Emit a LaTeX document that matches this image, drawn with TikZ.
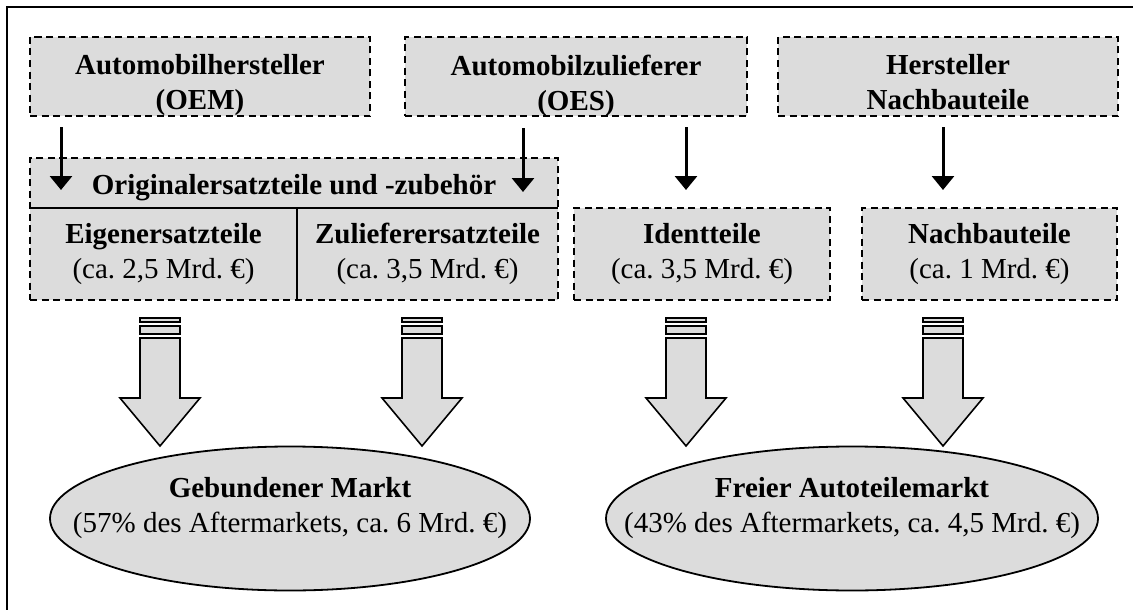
\documentclass[tikz,border=0pt]{standalone}
\usepackage{fontspec}
\setmainfont{Liberation Serif}
\usetikzlibrary{arrows.meta,shapes.geometric}
\definecolor{boxgray}{HTML}{DCDCDC}
\frenchspacing
\begin{document}
\begin{tikzpicture}[x=1pt,y=-1pt,
  dbox/.style={draw, fill=boxgray, line width=2pt, dash pattern=on 7pt off 4.5pt,
    inner sep=0pt, outer sep=0pt},
  cell/.style={inner sep=0pt, outer sep=0pt},
  txt/.style={font=\fontsize{29}{35}\selectfont, align=center, inner sep=0pt},
  hd/.style={font=\fontsize{29}{35}\selectfont\bfseries},
  flow/.style={-{Triangle[width=22pt,length=14pt]}, line width=3pt},
  market/.style={ellipse, draw, fill=boxgray, line width=1.8pt, inner sep=0pt},
  blockarrow/.pic={
    \draw[line width=1.6pt, fill=boxgray] (-20,18) rectangle (20,22);
    \draw[line width=1.6pt, fill=boxgray] (-20,26) rectangle (20,34);
    \draw[line width=1.6pt, fill=boxgray, line join=miter]
      (-20,38) -- (20,38) -- (20,98) -- (40,98) -- (0,146) -- (-40,98) -- (-20,98) -- cycle;
  }]
\useasboundingbox (0,0) rectangle (1133,610);
% frame
\draw[line width=2pt] (7,620) -- (7,7) -- (1145,7);

% producers
\node[dbox, minimum width=340pt, minimum height=79pt] (oem) at (200,76.5) {};
\node[txt, hd] at ([yshift=-9pt]oem.center) {Automobilhersteller\\(OEM)};
\node[dbox, minimum width=342pt, minimum height=79pt] (oes) at (576,76.5) {};
\node[txt, hd] at ([yshift=-9pt]oes.center) {Automobilzulieferer\\(OES)};
\node[dbox, minimum width=340pt, minimum height=79pt] (nbh) at (948,76.5) {};
\node[txt, hd] at ([yshift=-6pt]nbh.center) {Hersteller\\Nachbauteile};

% parts
\node[dbox, minimum width=528pt, minimum height=142pt] (orig) at (294,229) {};
\draw[line width=2pt] (orig.west |- 0,208) coordinate (hl) -- (orig.east |- 0,208) coordinate (hr);
\node[txt, hd] (head) at (294,188) {Originalersatzteile und -zubehör};
\node[cell, minimum width=267pt, minimum height=92pt] (eigen) at (163.5,254) {};
\node[cell, minimum width=261pt, minimum height=92pt] (zul) at (427.5,254) {};
\draw[line width=2pt] (eigen.north east) -- (eigen.south east);
\node[txt] at (eigen.center) {\textbf{Eigenersatzteile}\\(ca. 2,5 Mrd. €)};
\node[txt] at (zul.center) {\textbf{Zulieferersatzteile}\\(ca. 3,5 Mrd. €)};
\node[dbox, minimum width=256pt, minimum height=92pt] (ident) at (702,254)
  {\fontsize{29}{35}\selectfont\begin{tabular}{@{}c@{}}\textbf{Identteile}\\(ca. 3,5 Mrd. €)\end{tabular}};
\node[dbox, minimum width=255pt, minimum height=92pt] (nach) at (989.5,254)
  {\fontsize{29}{35}\selectfont\begin{tabular}{@{}c@{}}\textbf{Nachbauteile}\\(ca. 1 Mrd. €)\end{tabular}};

% supply arrows
\draw[flow] ([shift={(31,11)}]oem.south west) -- ([shift={(31,32)}]orig.north west);
\draw[flow] ([shift={(118,12)}]oes.south west) -- ([shift={(-35,34)}]orig.north east);
\draw[flow] ([shift={(281,11)}]oes.south west) -- ([shift={(-16,-18)}]ident.north);
\draw[flow] ([shift={(-5,11)}]nbh.south) -- ([shift={(-46.5,-18)}]nach.north);

% markets
\node[market, minimum width=480pt, minimum height=144pt] (geb) at (290,518.5) {};
\node[txt] at ([yshift=10pt]geb.center) {\textbf{Gebundener Markt}\\(57\% des Aftermarkets, ca. 6 Mrd. €)};
\node[market, minimum width=492pt, minimum height=144pt] (frei) at (852,518.5) {};
\node[txt] at ([yshift=10pt]frei.center) {\textbf{Freier Autoteilemarkt}\\(43\% des Aftermarkets, ca. 4,5 Mrd. €)};

% flows into the markets
\pic at ([xshift=-3.5pt]eigen.south) {blockarrow};
\pic at ([xshift=-5.5pt]zul.south) {blockarrow};
\pic at ([xshift=-16pt]ident.south) {blockarrow};
\pic at ([xshift=-46.5pt]nach.south) {blockarrow};
\end{tikzpicture}
\end{document}
